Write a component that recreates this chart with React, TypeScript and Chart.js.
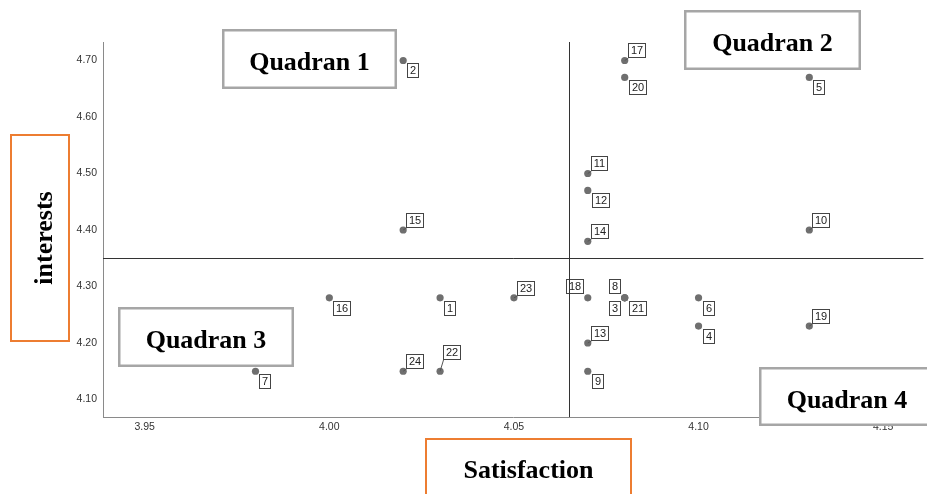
import React, { useEffect, useRef } from "react";
import { Chart, registerables } from "chart.js";

Chart.register(...registerables);

const respondentIds = ["1","2","3","4","5","6","7","8","9","10","11","12","13","14","15","16","17","18","19","20","21","22","23","24"];
const satisfaction = [4.03, 4.02, 4.08, 4.10, 4.13, 4.10, 3.98, 4.08, 4.07, 4.13, 4.07, 4.07, 4.07, 4.07, 4.02, 4.00, 4.08, 4.07, 4.13, 4.08, 4.08, 4.03, 4.05, 4.02];
const interests = [4.28, 4.70, 4.28, 4.23, 4.67, 4.28, 4.15, 4.28, 4.15, 4.40, 4.50, 4.47, 4.20, 4.38, 4.40, 4.28, 4.70, 4.28, 4.23, 4.67, 4.28, 4.15, 4.28, 4.15];
const labelPlacement = ["br","br","bl","br","br","br","br","tl","br","tr","tr","br","tr","tr","tr","br","tr","tl","tr","br","br","trh","tr","tr"];
const xTicks = [3.95, 4.0, 4.05, 4.1, 4.15];
const yTicks = [4.1, 4.2, 4.3, 4.4, 4.5, 4.6, 4.7];
const meanSatisfaction = 4.065;
const meanInterests = 4.35;
const quadrantNames = ["Quadran 1", "Quadran 2", "Quadran 3", "Quadran 4"];
const xTitle = "Satisfaction";
const yTitle = "interests";

const overlayPlugin = {
  id: "overlay",
  afterDatasetsDraw(chart: any) {
    const ctx = chart.ctx;
    const xs = chart.scales.x;
    const ys = chart.scales.y;
    const area = chart.chartArea;
    ctx.save();
    ctx.font = "11px 'Liberation Sans', Arial, sans-serif";
    ctx.textAlign = "center";
    ctx.textBaseline = "middle";
    respondentIds.forEach((id, i) => {
      const px = xs.getPixelForValue(satisfaction[i]);
      const py = ys.getPixelForValue(interests[i]);
      const w = Math.round(ctx.measureText(id).width) + 6;
      const h = 15;
      let left = 0, top = 0;
      const p = labelPlacement[i];
      if (p === "tr") { left = px + 3; top = py - 2 - h; }
      else if (p === "trh") { left = px + 3; top = py - 11 - h; }
      else if (p === "br") { left = px + 4; top = py + 3; }
      else if (p === "tl") { left = px - 4 - w; top = py - 4 - h; }
      else { left = px - 4 - w; top = py + 3; }
      left = Math.round(left); top = Math.round(top);
      if (p === "tr" || p === "trh") {
        ctx.strokeStyle = "#555";
        ctx.lineWidth = 1;
        ctx.beginPath();
        ctx.moveTo(px, py);
        ctx.lineTo(left + 0.5, top + h);
        ctx.stroke();
      }
      ctx.fillStyle = "#ffffff";
      ctx.fillRect(left, top, w, h);
      ctx.strokeStyle = "#444";
      ctx.lineWidth = 1;
      ctx.strokeRect(left + 0.5, top + 0.5, w - 1, h - 1);
      ctx.fillStyle = "#222";
      ctx.fillText(id, left + w / 2, top + h / 2 + 0.5);
    });
    ctx.strokeStyle = "#333";
    ctx.lineWidth = 1;
    const hy = Math.round(ys.getPixelForValue(meanInterests)) + 0.5;
    const vx = Math.round(xs.getPixelForValue(meanSatisfaction)) + 0.5;
    ctx.beginPath();
    ctx.moveTo(area.left, hy);
    ctx.lineTo(area.right, hy);
    ctx.moveTo(vx, area.top);
    ctx.lineTo(vx, area.bottom);
    ctx.stroke();
    ctx.restore();
  },
  afterDraw(chart: any) {
    const ctx = chart.ctx;
    ctx.save();
    const boxes = [
      [222, 29, 175, 60],
      [684, 10, 177, 60],
      [118, 307, 176, 60],
      [759, 367, 176, 59],
    ];
    ctx.font = "bold 26px 'Liberation Serif', 'Times New Roman', serif";
    ctx.textAlign = "center";
    ctx.textBaseline = "alphabetic";
    boxes.forEach((b, i) => {
      const [x, y, w, h] = b;
      ctx.fillStyle = "#ffffff";
      ctx.fillRect(x, y, w, h);
      ctx.strokeStyle = "#a6a6a6";
      ctx.lineWidth = 2.5;
      ctx.strokeRect(x + 1.25, y + 1.25, w - 2.5, h - 2.5);
      ctx.fillStyle = "#000";
      ctx.fillText(quadrantNames[i], x + w / 2, y + 41);
    });
    ctx.strokeStyle = "#ED7D31";
    ctx.lineWidth = 2;
    ctx.strokeRect(11, 135, 58, 206);
    ctx.strokeRect(426, 439, 205, 70);
    ctx.fillStyle = "#000";
    ctx.fillText(xTitle, 528.5, 478);
    ctx.translate(52, 238);
    ctx.rotate(-Math.PI / 2);
    ctx.fillText(yTitle, 0, 0);
    ctx.restore();
  },
};

export default function App() {
  const ref = useRef<HTMLCanvasElement | null>(null);
  useEffect(() => {
    if (!ref.current) return;
    const points = satisfaction.map((s, i) => ({ x: s, y: interests[i] }));
    const tickFont = { family: "'Liberation Sans', Arial, sans-serif", size: 10.5 };
    const chart = new Chart(ref.current, {
      type: "scatter",
      data: {
        datasets: [
          {
            data: points,
            pointRadius: 3.6,
            pointHoverRadius: 3.6,
            backgroundColor: "#6f6f6f",
            borderWidth: 0,
          },
        ],
      },
      options: {
        responsive: false,
        animation: false,
        events: [],
        layout: { padding: { top: 42, right: 2, left: 0, bottom: 0 } },
        plugins: { legend: { display: false }, tooltip: { enabled: false } },
        scales: {
          x: {
            type: "linear",
            min: 3.9387,
            max: 4.1609,
            afterBuildTicks: (s: any) => { s.ticks = xTicks.map((v) => ({ value: v })); },
            afterFit: (s: any) => { s.height = 77; },
            ticks: {
              callback: (v: any) => Number(v).toFixed(2),
              font: tickFont,
              color: "#333",
              padding: 4,
              maxRotation: 0,
              autoSkip: false,
            },
            grid: { drawOnChartArea: false, drawTicks: false },
            border: { color: "#8a8a8a", width: 1 },
          },
          y: {
            type: "linear",
            min: 4.0690,
            max: 4.7327,
            afterBuildTicks: (s: any) => { s.ticks = yTicks.map((v) => ({ value: v })); },
            afterFit: (s: any) => { s.width = 103; },
            ticks: {
              callback: (v: any) => Number(v).toFixed(2),
              font: tickFont,
              color: "#333",
              padding: 6,
              autoSkip: false,
            },
            grid: { drawOnChartArea: false, drawTicks: false },
            border: { color: "#8a8a8a", width: 1 },
          },
        },
      },
      plugins: [overlayPlugin],
    });
    return () => chart.destroy();
  }, []);
  return (
    <div style={{ position: "absolute", left: 0, top: 0, width: 927, height: 494, background: "#fff" }}>
      <canvas ref={ref} width={927} height={494} style={{ display: "block" }} />
    </div>
  );
}
